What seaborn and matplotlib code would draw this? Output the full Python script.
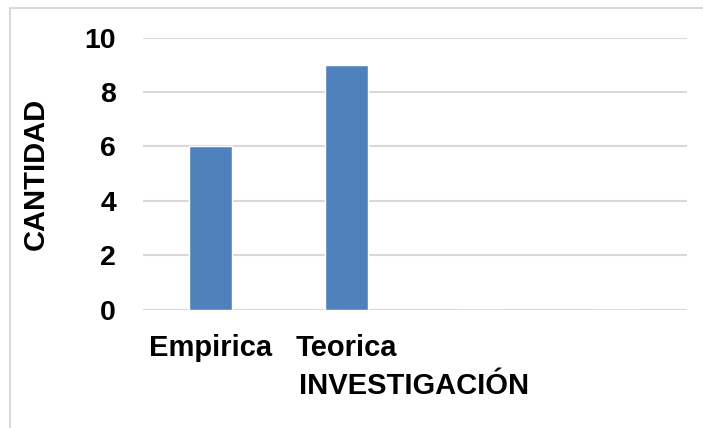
import matplotlib
matplotlib.use("Agg")
import matplotlib.pyplot as plt
import seaborn as sns
import pandas as pd
from matplotlib.patches import Rectangle

categories = ["Empirica", "Teorica", " ", "  "]
values = [6, 9, 0, 0]
yticks = [0, 2, 4, 6, 8, 10]

sns.set_theme(style="white")
plt.rcParams['font.family'] = ['Liberation Sans', 'DejaVu Sans']

W, H = 703, 428
fig = plt.figure(figsize=(W/100, H/100), dpi=100)
x0, x1, ytop, ybot = 142.5, 686.5, 37.5, 309.5
ax = fig.add_axes([x0/W, 1-ybot/H, (x1-x0)/W, (ybot-ytop)/H])

df = pd.DataFrame({"cat": categories, "val": values})
sns.barplot(data=df, x="cat", y="val", color="#4f81bd", saturation=1,
            width=0.31, ax=ax, order=categories)

FS = 21
ax.set_ylim(0, 10)
ax.set_xlim(-0.5, 3.5)
ax.set_yticks(yticks)
ax.set_yticklabels([str(t) for t in yticks], fontsize=20.5, fontweight="bold", color="black")
ax.set_xticks(range(len(categories)))
ax.set_xticklabels(categories, fontsize=FS, fontweight="bold", color="black")
ax.tick_params(axis="both", length=0, colors="black")
ax.tick_params(axis="y", pad=19)
ax.tick_params(axis="x", pad=18)
ax.yaxis.grid(True, color="#d9d9d9", linewidth=1.5)
ax.set_axisbelow(True)
for s in ax.spines.values():
    s.set_visible(False)
ax.axhline(0, color="#d9d9d9", linewidth=1.5, zorder=0)

ax.set_ylabel("CANTIDAD", fontsize=FS, fontweight="bold", color="black")
ax.set_xlabel("INVESTIGACIÓN", fontsize=FS, fontweight="bold", color="black")
ax.yaxis.set_label_coords(-(x0-50)/(x1-x0), 0.5)
ax.xaxis.set_label_coords((414-x0)/(x1-x0), -(372-ybot)/(ybot-ytop))

fig.patches.append(Rectangle((9.5/W, -0.1), 1.2, 1-8.5/H+0.1, transform=fig.transFigure,
                             fill=False, edgecolor="#d9d9d9", linewidth=1.5))

fig.savefig("out.png", dpi=100)
